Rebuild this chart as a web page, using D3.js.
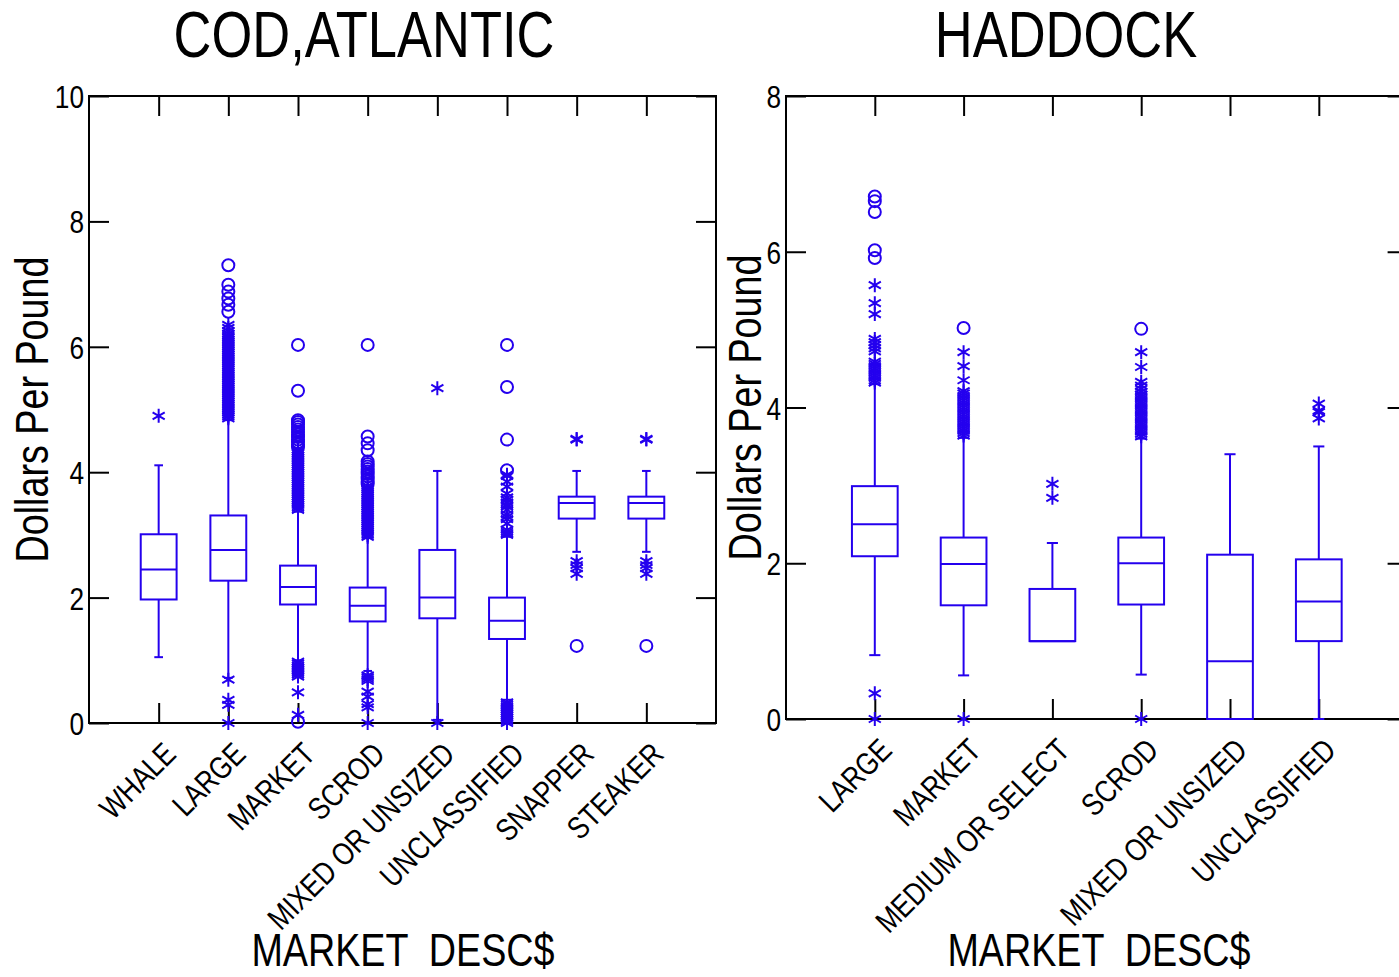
<!DOCTYPE html>
<html><head><meta charset="utf-8">
<script src="https://cdn.jsdelivr.net/npm/d3@7"></script>
<style>
body{margin:0;background:#fff;}
svg text{font-family:"Liberation Sans",Arial,Helvetica,sans-serif;fill:#000;}
</style></head><body><svg id="chart" width="1399" height="977"></svg>
<script>
// ---------- COD, ATLANTIC ----------
const codCategories = ["WHALE","LARGE","MARKET","SCROD","MIXED OR UNSIZED","UNCLASSIFIED","SNAPPER","STEAKER"];
const codQ1      = [1.97, 2.27, 1.89, 1.62, 1.67, 1.34, 3.26, 3.26];
const codMedian  = [2.45, 2.76, 2.17, 1.87, 2.00, 1.63, 3.51, 3.51];
const codQ3      = [3.01, 3.31, 2.51, 2.16, 2.76, 2.00, 3.61, 3.61];
const codWhiskLo = [1.05, 0.72, 1.00, 0.83, 0.05, 0.37, 2.73, 2.73];
const codWhiskHi = [4.11, 4.83, 3.37, 2.95, 4.02, 2.97, 4.02, 4.02];
const codStars = [
  [4.90],
  [0.69,0.37,0.29,0.00,
   4.86,4.89,4.92,4.95,4.98,5.01,5.04,5.07,5.10,5.13,5.16,5.19,5.22,5.25,5.28,5.31,5.34,5.37,5.40,5.43,
   5.46,5.49,5.52,5.55,5.58,5.61,5.64,5.67,5.70,5.73,5.76,5.79,5.82,5.85,5.88,5.91,5.94,5.97,6.00,6.03,
   6.06,6.09,6.12,6.15,6.18,6.21,6.25,6.30,6.35],
  [0.13,0.49,0.74,0.77,0.80,0.83,0.86,0.89,0.92,0.95,0.98,
   3.40,3.43,3.46,3.49,3.52,3.55,3.58,3.61,3.64,3.67,3.70,3.73,3.76,3.79,3.82,3.85,3.88,3.91,3.94,3.97,
   4.00,4.03,4.06,4.09,4.12,4.15,4.18,4.21,4.24,4.27,4.30,4.33,4.36],
  [0.00,0.25,0.30,0.42,0.50,0.67,0.70,0.73,0.76,
   2.97,3.00,3.03,3.06,3.09,3.12,3.15,3.18,3.21,3.24,3.27,3.30,3.33,3.36,3.39,3.42,3.45,3.48,3.51,3.54,
   3.57,3.60,3.63,3.66,3.69,3.72,3.75,3.78],
  [0.00,5.34],
  [0.00,0.03,0.06,0.09,0.12,0.15,0.18,0.21,0.24,0.27,0.30,0.33,
   3.00,3.02,3.05,3.08,3.18,3.25,3.29,3.33,3.40,3.45,3.48,3.52,3.56,3.60,3.66,3.77,3.85,3.94,3.96],
  [2.38,2.47,2.52,2.58,4.52,4.53],
  [2.38,2.47,2.52,2.58,4.52,4.53]
];
const codCircles = [
  [],
  [6.56,6.67,6.77,6.88,6.99,7.30],
  [0.02,4.40,4.44,4.48,4.52,4.56,4.60,4.64,4.68,4.72,4.76,4.80,4.83,5.30,6.03],
  [3.81,3.85,3.89,3.93,3.97,4.01,4.05,4.09,4.13,4.17,4.35,4.46,4.57,6.03],
  [],
  [4.03,4.52,5.36,6.03],
  [1.23],
  [1.23]
];
const codYTicks = [0,2,4,6,8,10];

// ---------- HADDOCK ----------
const hadCategories = ["LARGE","MARKET","MEDIUM OR SELECT","SCROD","MIXED OR UNSIZED","UNCLASSIFIED"];
const hadQ1      = [2.09, 1.46, 1.00, 1.47, 0.00, 1.00];
const hadMedian  = [2.50, 1.99, 1.00, 2.00, 0.74, 1.51];
const hadQ3      = [2.99, 2.33, 1.67, 2.33, 2.11, 2.05];
const hadWhiskLo = [0.82, 0.56, 1.00, 0.57, 0.00, 0.00];
const hadWhiskHi = [4.30, 3.61, 2.26, 3.60, 3.40, 3.50];
const hadStars = [
  [0.00,0.33,4.32,4.35,4.38,4.41,4.44,4.47,4.50,4.53,4.56,4.59,4.72,4.76,4.80,4.84,4.88,5.20,5.34,5.57],
  [0.00,3.64,3.67,3.70,3.73,3.76,3.79,3.82,3.85,3.88,3.91,3.94,3.97,4.00,4.03,4.06,4.09,4.12,4.15,4.18,4.21,
   4.35,4.53,4.71],
  [2.84,3.02],
  [0.00,3.63,3.66,3.69,3.72,3.75,3.78,3.81,3.84,3.87,3.90,3.93,3.96,3.99,4.02,4.05,4.08,4.11,4.14,4.17,4.20,
   4.24,4.28,4.33,4.52,4.71],
  [],
  [3.86,3.94,3.96,4.05]
];
const hadCircles = [
  [5.92,6.02,6.51,6.65,6.71],
  [5.02],
  [],
  [5.01],
  [],
  []
];
const hadYTicks = [0,2,4,6,8];

const BLUE = "#2400ee";
const SQ = 0.82; // horizontal condensing of the original's font
const svg = d3.select("#chart");
svg.append("rect").attr("width",1399).attr("height",977).attr("fill","#fff");

function starPath(s){
  const a = s*Math.cos(Math.PI/6), b = s*Math.sin(Math.PI/6);
  return `M0,${-s}L0,${s}M${-a},${-b}L${a},${b}M${-a},${b}L${a},${-b}`;
}

function drawPanel(cfg){
  const g = svg.append("g");
  const x = d3.scalePoint().domain(cfg.categories).range([cfg.left, cfg.right]).padding(1);
  const y = d3.scaleLinear().domain([0, cfg.yMax]).range([cfg.bottom, cfg.top]);
  const step = x.step();
  const bw = step*0.515, cw = step*0.125;

  g.append("rect").attr("x",cfg.left).attr("y",cfg.top)
    .attr("width",cfg.right-cfg.left).attr("height",cfg.bottom-cfg.top)
    .attr("fill","none").attr("stroke","#000").attr("stroke-width",2);

  const styleAxis = sel => { sel.select(".domain").remove();
    sel.selectAll(".tick line").attr("stroke","#000").attr("stroke-width",2); };

  g.append("g").attr("transform",`translate(${cfg.left},0)`)
    .call(d3.axisLeft(y).tickValues(cfg.yTicks).tickSizeInner(-20).tickSizeOuter(0).tickPadding(5))
    .call(styleAxis)
    .call(s=>s.selectAll("text").attr("font-size",32).attr("dy","0.36em")
      .attr("transform",function(){ return `translate(${d3.select(this).attr("x")},0) scale(${SQ},1)`; })
      .attr("x",0).style("font-family","'Liberation Sans',Arial,sans-serif"));
  g.append("g").attr("transform",`translate(${cfg.right},0)`)
    .call(d3.axisRight(y).tickValues(cfg.yTicks).tickSizeInner(-20).tickSizeOuter(0).tickFormat(""))
    .call(styleAxis);
  g.append("g").attr("transform",`translate(0,${cfg.top})`)
    .call(d3.axisTop(x).tickSizeInner(-20).tickSizeOuter(0).tickFormat(""))
    .call(styleAxis);
  g.append("g").attr("transform",`translate(0,${cfg.bottom})`)
    .call(d3.axisBottom(x).tickSizeInner(-20).tickSizeOuter(0).tickFormat(""))
    .call(styleAxis);

  g.selectAll("text.cat").data(cfg.categories).enter().append("text")
    .attr("class","cat")
    .attr("transform",d=>`translate(${x(d)+19},${cfg.bottom+33}) rotate(-45) scale(${SQ},1)`)
    .attr("text-anchor","end").attr("font-size",31.5).text(d=>d);

  g.append("text").attr("transform",`translate(${cfg.titleX},57) scale(${SQ},1)`)
    .attr("text-anchor","middle").attr("font-size",64).text(cfg.title);
  g.append("text").attr("transform",`translate(${cfg.xTitleX},966) scale(${SQ},1)`)
    .attr("text-anchor","middle").attr("font-size",46).style("white-space","pre").text("MARKET  DESC$");
  g.append("text").attr("transform",`translate(${cfg.yTitleX},${(cfg.top+cfg.bottom)/2}) rotate(-90) scale(${SQ},1)`)
    .attr("text-anchor","middle").attr("font-size",46).text("Dollars Per Pound");

  const data = cfg.categories.map((c,i)=>({c, q1:cfg.q1[i], med:cfg.med[i], q3:cfg.q3[i],
    lo:cfg.lo[i], hi:cfg.hi[i], stars:cfg.stars[i], circles:cfg.circles[i]}));

  const bx = g.append("g").attr("stroke",BLUE).attr("stroke-width",2).attr("fill","none");
  data.forEach(d=>{
    const cx = x(d.c);
    if (d.hi > d.q3){
      bx.append("line").attr("x1",cx).attr("x2",cx).attr("y1",y(d.q3)).attr("y2",y(d.hi));
      bx.append("line").attr("x1",cx-cw/2).attr("x2",cx+cw/2).attr("y1",y(d.hi)).attr("y2",y(d.hi));
    }
    if (d.lo < d.q1){
      bx.append("line").attr("x1",cx).attr("x2",cx).attr("y1",y(d.q1)).attr("y2",y(d.lo));
      bx.append("line").attr("x1",cx-cw/2).attr("x2",cx+cw/2).attr("y1",y(d.lo)).attr("y2",y(d.lo));
    }
    bx.append("rect").attr("x",cx-bw/2).attr("width",bw)
      .attr("y",y(d.q3)).attr("height",y(d.q1)-y(d.q3));
    bx.append("line").attr("x1",cx-bw/2).attr("x2",cx+bw/2).attr("y1",y(d.med)).attr("y2",y(d.med));
    d.stars.forEach(v=>{
      bx.append("path").attr("d",starPath(7)).attr("transform",`translate(${cx},${y(v)})`);
    });
    d.circles.forEach(v=>{
      bx.append("circle").attr("cx",cx).attr("cy",y(v)).attr("r",6);
    });
  });
}

drawPanel({categories:codCategories, q1:codQ1, med:codMedian, q3:codQ3, lo:codWhiskLo, hi:codWhiskHi,
  stars:codStars, circles:codCircles, yTicks:codYTicks, yMax:10,
  left:89, right:716, top:96, bottom:723, title:"COD,ATLANTIC", titleX:364, xTitleX:403, yTitleX:48});
drawPanel({categories:hadCategories, q1:hadQ1, med:hadMedian, q3:hadQ3, lo:hadWhiskLo, hi:hadWhiskHi,
  stars:hadStars, circles:hadCircles, yTicks:hadYTicks, yMax:8,
  left:786, right:1407.6, top:96, bottom:719, title:"HADDOCK", titleX:1066, xTitleX:1099, yTitleX:761});
</script></body></html>
